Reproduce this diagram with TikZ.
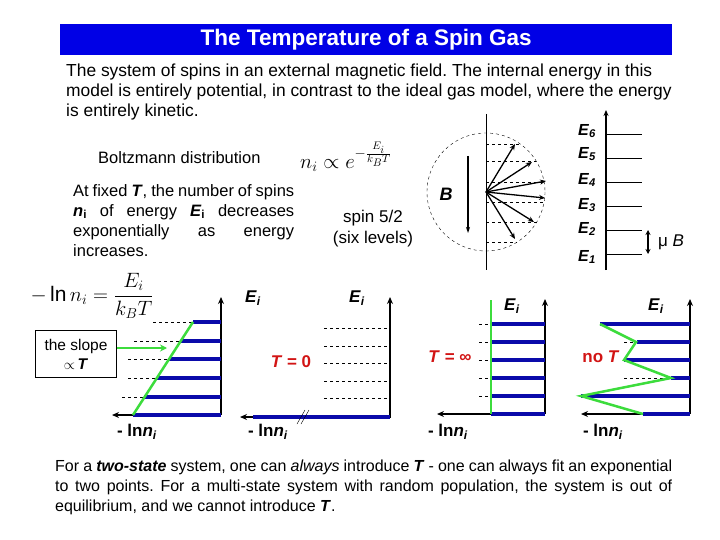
\documentclass[tikz,border=0pt]{standalone}
\usepackage{fontspec}
\setmainfont{Liberation Sans}
\usetikzlibrary{arrows.meta}
\definecolor{tb}{RGB}{0,0,230}
\definecolor{lb}{RGB}{10,10,170}
\definecolor{gr}{RGB}{60,220,60}
\definecolor{rd}{RGB}{210,20,20}
\tikzset{
 lvl/.style={lb,line width=3.6pt},
 grn/.style={gr,line width=2.5pt},
 ax/.style={line width=1.2pt,-{Stealth[length=7pt,width=6pt]}},
 dsh/.style={dashed,thin},
 txt/.style={inner sep=0pt,font=\fontsize{16.5}{20}\selectfont},
 lab/.style={inner sep=0pt,font=\fontsize{17}{20}\selectfont\bfseries},
 red/.style={lab,text=rd}
}
\frenchspacing
\begin{document}
\begin{tikzpicture}[x=1pt,y=-1pt]
\useasboundingbox (0,0) rectangle (720,540);
\fill[white] (0,0) rectangle (720,540);
% title
\node[fill=tb,minimum width=612pt,minimum height=31pt,anchor=north west,inner sep=0pt,text=white,font=\fontsize{22.5}{24}\selectfont\bfseries] (title) at (60,24) {The Temperature of a Spin Gas};
% intro
\node[txt,anchor=north west,align=left,font=\fontsize{17.4}{20}\selectfont] (intro) at (66,64) {The system of spins in an external magnetic field. The internal energy in this\\model is entirely potential, in contrast to the ideal gas model, where the energy\\is entirely kinetic.};
\node[txt,anchor=west] (boltz) at (98,158) {Boltzmann distribution};
\node[inner sep=0pt,font=\fontsize{22}{24}\selectfont,anchor=west] (formula) at (300,157) {$n_i\propto e^{-\frac{E_i}{k_BT}}$};
\node[txt,anchor=north west,align=left] (para) at (73,184) {\makebox[221pt][s]{At fixed \textbf{\textit{T}}, the number of spins}\\\makebox[221pt][s]{\textbf{\textit{n}\textsubscript{i}} of energy \textbf{\textit{E}\textsubscript{i}} decreases}\\\makebox[221pt][s]{exponentially as energy}\\increases.};
% spin picture
\draw[dashed,thin] (486,192) circle (59);
\foreach \y in {144,161,182,202,222,242}{\draw[dashed,thin] (486,\y) -- ({486+sqrt(59*59-(\y-192)*(\y-192))},\y);}
\draw[thin] (486,114) -- (486,270);
\coordinate (o) at (486,192);
\foreach \p in {(515,144),(532,162),(546,181),(545,198),(534,222),(515,239)}{\draw[line width=1.3pt,-{Stealth[length=6pt,width=5pt]}] (o) -- \p;}
\coordinate (b1) at (468,156); \coordinate (b2) at (468,233);
\draw[line width=1.2pt,-{Stealth[length=6pt,width=4pt]}] (b1) -- (b2);
\node[lab,font=\fontsize{18}{20}\selectfont\bfseries] (B) at (446,194) {\textit{B}};
\node[inner sep=0pt,font=\fontsize{17}{21}\selectfont,align=center] (spin) at (373,229) {spin 5/2\\(six levels)};
% ladder
\coordinate (l0) at (606,270); \coordinate (l1) at (606,110);
\draw[line width=1.3pt,-{Stealth[length=6pt,width=5pt]}] (l0) -- (l1);
\foreach \y/\n/\ly in {134/6/131,158/5/154,182/4/180,206/3/205,230/2/229,254/1/257}{
 \draw[thin] (606,\y) -- (642,\y);
 \node[lab,font=\fontsize{16}{18}\selectfont\bfseries] at (587,\ly) {\textit{E}\textsubscript{\textit{\n}}};}
\draw[line width=1.2pt,{Stealth[length=5pt,width=5pt]}-{Stealth[length=5pt,width=5pt]}] (648,230) -- (648,254);
\node[inner sep=0pt,font=\fontsize{17}{20}\selectfont,anchor=west] (mu) at (658,242) {μ \textit{B}};
% plot 1
\node[inner sep=0pt,font=\fontsize{21}{24}\selectfont] (f1) at (92,296) {$\displaystyle -\ln n_i=\frac{E_i}{k_BT}$};
\draw[ax] (221,415) -- (221,297);
\draw[ax] (221,415) -- (112,415);
\foreach \y/\x/\d in {322/193/153,341/181/134,359/169/128,378/157/128,397/144/122}{
 \draw[dsh] (\d,\y) -- (\x,\y); \draw[lvl] (\x,\y) -- (221,\y);}
\draw[lvl] (133,415) -- (221,415);
\draw[grn] (133,415) -- (193,322);
\node[draw,thin,minimum width=81pt,minimum height=47pt,inner sep=0pt,align=center,font=\fontsize{15.5}{19}\selectfont] (box) at (76,354) {the slope\\$\propto$\,\textbf{\textit{T}}};
\draw[gr,line width=2.5pt,-{Stealth[length=7pt,width=7pt]}] (box.east |- 0,348) -- (167,348);
\node[lab] (e1) at (253,298) {\textit{E}\textsubscript{\textit{i}}};
\node[lab] (n1) at (137,432) {- ln\textit{n}\textsubscript{\textit{i}}};
% plot 2
\draw[ax] (390,418) -- (390,297);
\draw[ax] (390,417) -- (240,417);
\draw[lvl] (253,417) -- (390,417);
\draw[thin] (297,424) -- (305,410); \draw[thin] (301,424) -- (309,410);
\foreach \y in {328,346,363,381,398}{\draw[dsh] (324,\y) -- (390,\y);}
\node[red] (t0) at (291,362) {\textit{T} = 0};
\node[lab] (e2) at (357,298) {\textit{E}\textsubscript{\textit{i}}};
\node[lab] (n2) at (268,432) {- ln\textit{n}\textsubscript{\textit{i}}};
% plot 3
\draw[ax] (545,414) -- (545,299);
\draw[ax] (545,414) -- (437,414);
\foreach \y in {324,342,360,378,396}{\draw[dsh] (479,\y) -- (491,\y); \draw[lvl] (491,\y) -- (545,\y);}
\draw[lvl] (491,414) -- (545,414);
\draw[grn] (491,300) -- (491,414);
\node[red] (tinf) at (450,357) {\textit{T} = ∞};
\node[lab] (e3) at (512,306) {\textit{E}\textsubscript{\textit{i}}};
\node[lab] (n3) at (448,432) {- ln\textit{n}\textsubscript{\textit{i}}};
% plot 4
\draw[ax] (690,414) -- (690,299);
\draw[ax] (690,414) -- (581,414);
\draw[dsh] (624,342) -- (637,342); \draw[dsh] (624,378) -- (671,378);
\foreach \y/\x in {324/600,342/637,360/624,378/671,396/581,414/643}{\draw[lvl] (\x,\y) -- (690,\y);}
\draw[grn] (600,324) -- (636,342) -- (624,360) -- (671,378) -- (581,396) -- (643,414);
\node[red] (noT) at (601,357) {no \textit{T}};
\node[lab] (e4) at (656,306) {\textit{E}\textsubscript{\textit{i}}};
\node[lab] (n4) at (603,432) {- ln\textit{n}\textsubscript{\textit{i}}};
% bottom
\node[txt,anchor=north west,align=left,font=\fontsize{16}{20}\selectfont] (bottom) at (55,460) {\makebox[617pt][s]{For a \textbf{\textit{two-state}} system, one can \textit{always} introduce \textbf{\textit{T}} - one can always fit an exponential}\\\makebox[617pt][s]{to two points. For a multi-state system with random population, the system is out of}\\equilibrium, and we cannot introduce \textbf{\textit{T}}.};
\end{tikzpicture}
\end{document}
